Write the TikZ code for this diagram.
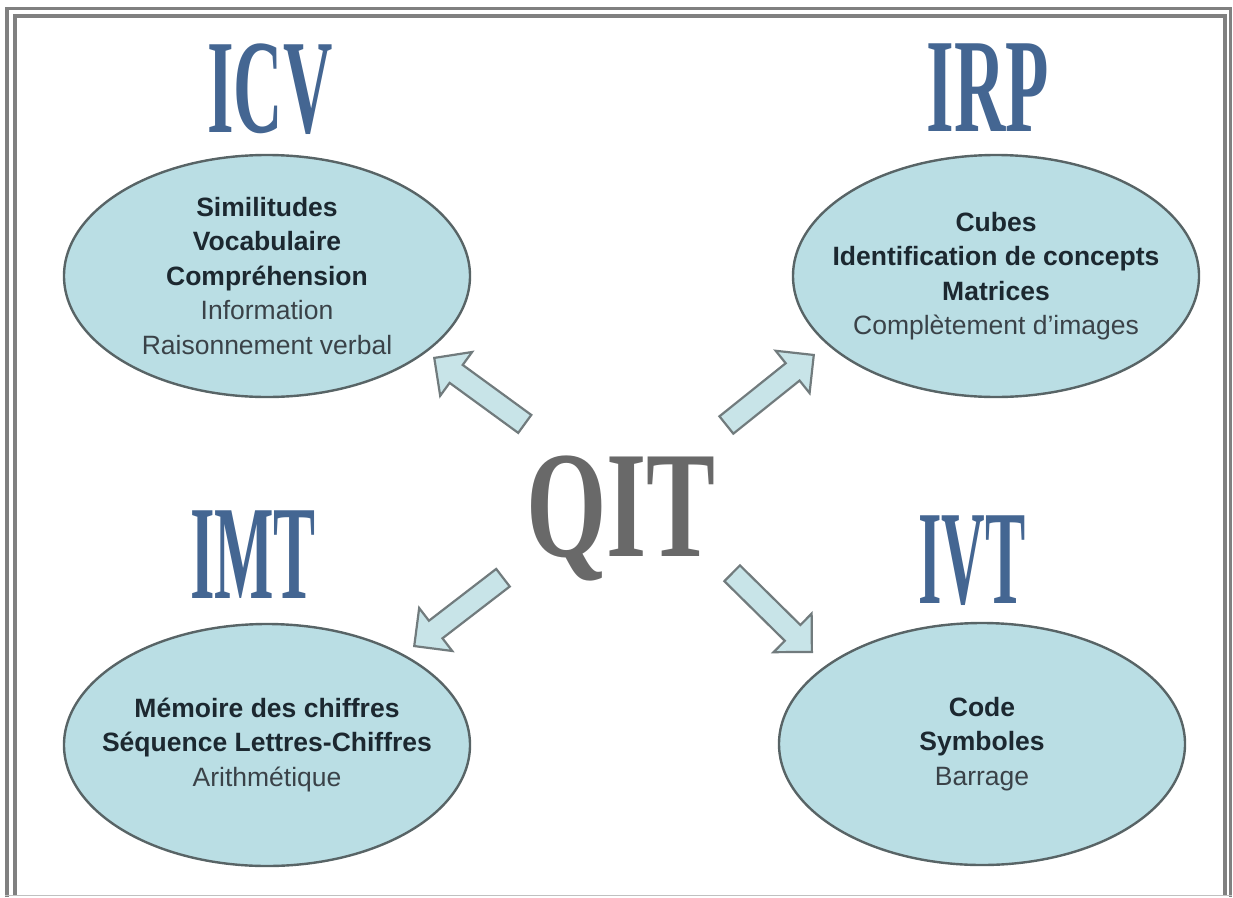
\documentclass[tikz,border=0pt]{standalone}
\usepackage{fontspec}
\setmainfont{Liberation Serif}
\setsansfont{Liberation Sans}
\usetikzlibrary{shapes.geometric,shapes.arrows}

\definecolor{fondbulle}{RGB}{186,222,228}
\definecolor{bordbulle}{RGB}{88,100,102}
\definecolor{bleutitre}{RGB}{68,102,146}
\definecolor{cadre}{RGB}{128,128,128}
\definecolor{encre}{RGB}{28,40,48}
\definecolor{grisclair}{RGB}{58,66,72}
\definecolor{grisqit}{RGB}{105,105,105}
\definecolor{fondfleche}{RGB}{200,228,232}

\begin{document}
\begin{tikzpicture}[x=1pt,y=-1pt,
    bulle/.style={ellipse,draw=bordbulle,line width=2.4pt,fill=fondbulle,
      minimum width=406pt,minimum height=242pt,inner xsep=-100pt,inner ysep=-60pt,
      align=center,text=encre,font=\sffamily\fontsize{26.5}{34.5}\selectfont},
    titre/.style={text=bleutitre,inner sep=0pt,anchor=base,
      font=\rmfamily\bfseries\fontsize{134}{134}\selectfont},
    fleche/.style={single arrow,draw=bordbulle!85,fill=fondfleche,line width=2.2pt,
      inner xsep=0pt,inner ysep=10pt,single arrow head extend=16pt,
      minimum height=112pt,anchor=tip}]
  \useasboundingbox (0,0) rectangle (1233,897);
  % cadre double
  \draw[cadre,line width=3.5pt] (7,897) -- (7,8.5) -- (1230.5,8.5) -- (1230.5,897);
  \draw[cadre,line width=4pt] (15,895.5) -- (15,16) -- (1225,16) -- (1225,895.5);
  \draw[cadre!50,line width=1.2pt] (5,895.8) -- (1232,895.8);

  % titres
  \node[titre,xscale=0.51] (ticv) at (270,132) {ICV};
  \node[titre,xscale=0.53] (tirp) at (988,131) {IRP};
  \node[titre,xscale=0.47] (timt) at (253,598) {IMT};
  \node[titre,xscale=0.45] (tivt) at (972,603) {IVT};
  \node[text=grisqit,inner sep=0pt,anchor=base,xscale=0.68,
    font=\rmfamily\bfseries\fontsize{152}{152}\selectfont] (qit) at (621,556) {QIT};

  % bulles
  \node[bulle] (icv) at (267,276) {\textbf{Similitudes}\\ \textbf{Vocabulaire}\\
    \textbf{Compréhension}\\ \textcolor{grisclair}{Information}\\
    \textcolor{grisclair}{Raisonnement verbal}};
  \node[bulle] (irp) at (996,276) {\textbf{Cubes}\\ \textbf{Identification de concepts}\\
    \textbf{Matrices}\\ \textcolor{grisclair}{Complètement d'images}};
  \node[bulle] (imt) at (267,745) {\textbf{Mémoire des chiffres}\\
    \textbf{Séquence Lettres-Chiffres}\\ \textcolor{grisclair}{Arithmétique}};
  \node[bulle] (ivt) at (982,744) {\textbf{Code}\\ \textbf{Symboles}\\
    \textcolor{grisclair}{Barrage}};

  % fleches
  \node[fleche,rotate=143.9] (ficv) at (433,357) {};
  \node[fleche,rotate=38.7] (firp) at (815,354) {};
  \node[fleche,rotate=217.6] (fimt) at (413,647) {};
  \node[fleche,rotate=-44.6] (fivt) at (813,653) {};
\end{tikzpicture}
\end{document}
